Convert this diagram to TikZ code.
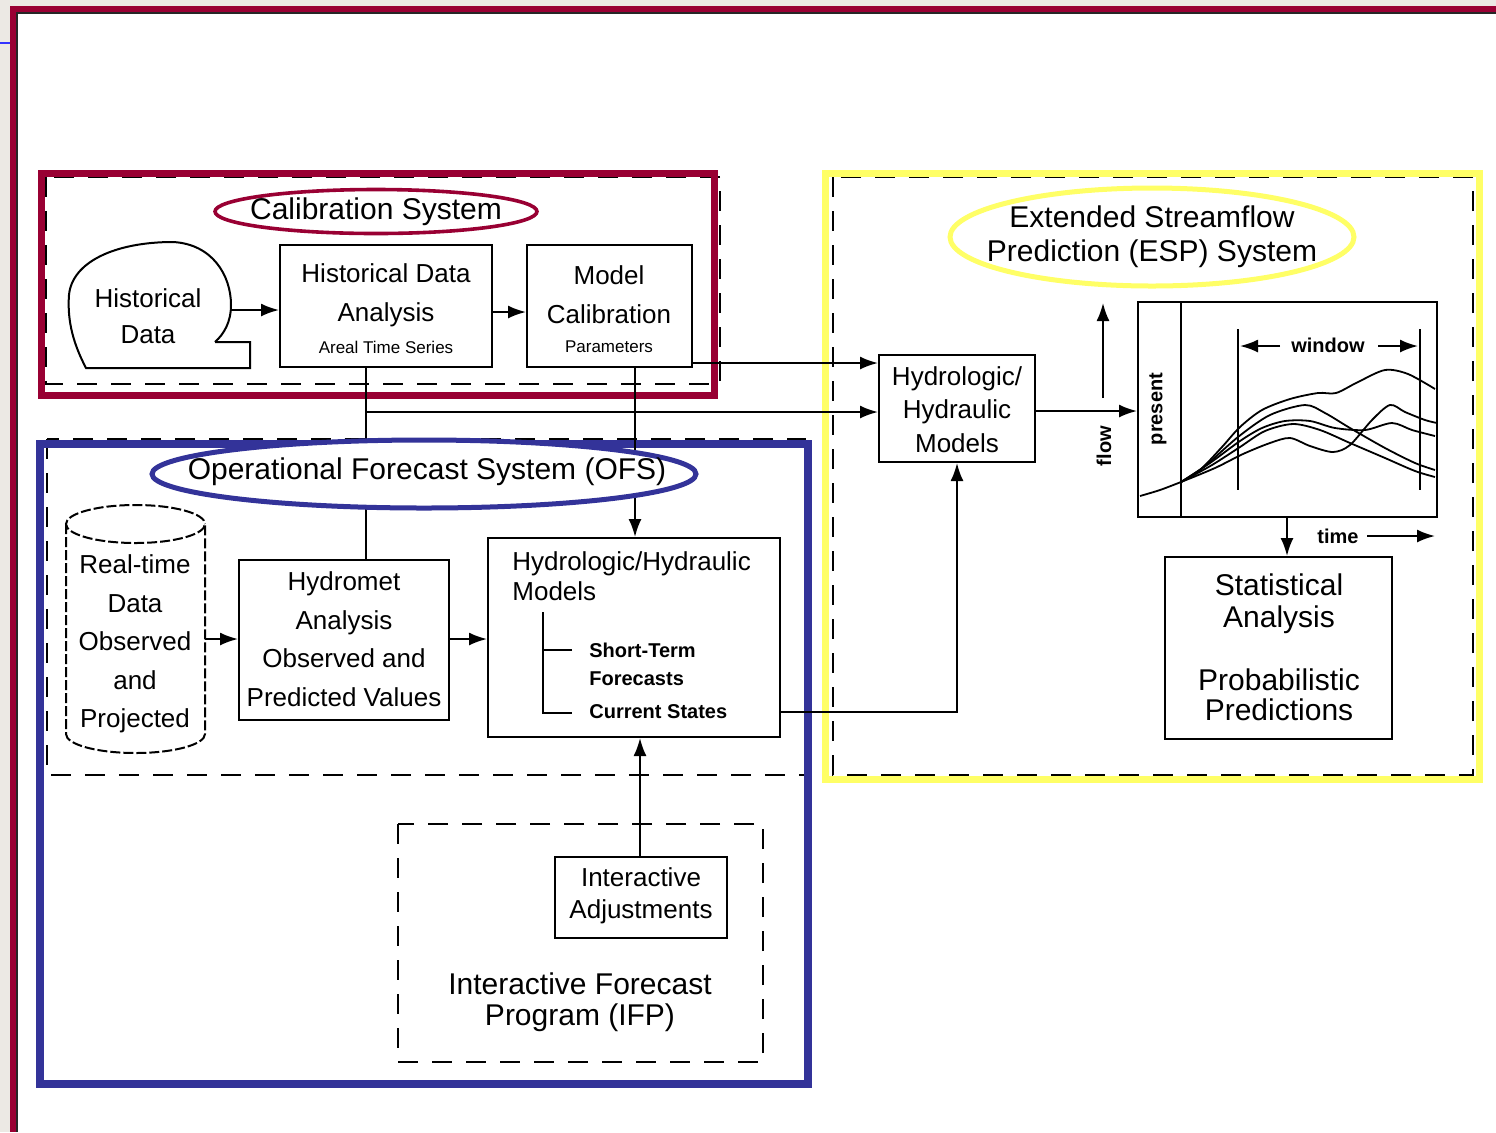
\documentclass[tikz,border=0pt]{standalone}
\usepackage{fontspec}
\setmainfont{Liberation Sans}
\usetikzlibrary{fit,arrows.meta,shapes.geometric}
\definecolor{calmaroon}{HTML}{990033}
\definecolor{ofsblue}{HTML}{333399}
\definecolor{espyellow}{HTML}{FFFF66}
\definecolor{winbg}{HTML}{ECE9E4}
\begin{document}
\begin{tikzpicture}[x=0.5pt,y=-0.5pt,
  box/.style={draw, line width=1pt, inner sep=0pt},
  dsh/.style={line width=1pt, dash pattern=on 10pt off 7pt},
  arr/.style={line width=1pt, -{Latex[length=9pt,width=6.5pt]}},
  ln/.style={line width=1pt},
  big/.style={inner sep=0pt, align=center},
  mid/.style={inner sep=0pt, align=center},
  sml/.style={font=\fontsize{8.5}{9}\selectfont, inner sep=0pt},
  lbl/.style={font=\bfseries\fontsize{10}{11}\selectfont, inner sep=0pt},
  crv/.style={line width=0.9pt},
]
\useasboundingbox (0,0) rectangle (1496,1132);
% window background and frame
\fill[white] (0,0) rectangle (1496,1132);
\fill[winbg] (0,0) rectangle (10,1132);
\fill[winbg] (0,0) rectangle (1496,6);
\fill[calmaroon] (10,6) rectangle (1496,12);
\fill[calmaroon] (10,6) rectangle (16,1132);
\draw[line width=0.7pt, black!85] (17,1132) -- (17,13) -- (1496,13);
\draw[line width=1pt, blue!80] (0,43) -- (10,43);

% ---------- system frames ----------
\draw[dsh] (46,177) rectangle (720,384);
\draw[calmaroon, line width=3.5pt] (41,173) rectangle (714,395);
\draw[dsh] (47,439) rectangle (805,775);
\draw[ofsblue, line width=4pt] (40,444) rectangle (808,1084);
\draw[dsh] (833,177) rectangle (1473,775);
\draw[espyellow, line width=3.5pt] (825,173) rectangle (1479,779);
\draw[dsh] (398,824) rectangle (763,1062);

% ---------- Calibration system ----------
\draw[ln] (215,342) -- (250,342) -- (250,368) -- (86,368)
  .. controls (74,345) and (67,322) .. (69,295)
  .. controls (72,262) and (115,242) .. (173,242)
  .. controls (212,244) and (231,275) .. (231,305)
  .. controls (231,322) and (224,334) .. (215,342);
\coordinate (histR) at (231,310);
\node[mid, font=\fontsize{13}{18}\selectfont] (histt) at (148,316) {Historical\\Data};

\node[box, fit={(280,245) (492,367)}] (hda) {};
\node[mid, font=\fontsize{13}{19.5}\selectfont] (hdat) at (386,295) {Historical Data\\Analysis};
\node[sml] (hdas) at (386,347) {Areal Time Series};

\node[box, fit={(527,245) (692,367)}] (mc) {};
\node[mid, font=\fontsize{13}{19.5}\selectfont] (mct) at (609,295) {Model\\Calibration};
\node[sml] (mcs) at (609,347) {Parameters};

% ---------- OFS ----------
\draw[ln, dash pattern=on 5pt off 1.5pt]
  (66,524) -- (66,734) arc[start angle=180, end angle=0, x radius=69.5, y radius=19]
  -- (205,524) arc[start angle=0, end angle=360, x radius=69.5, y radius=19];
\coordinate (cylR) at (205,639);
\node[mid, font=\fontsize{13}{19.25}\selectfont] (cylt) at (135,644) {Real-time\\Data\\Observed\\and\\Projected};

\node[box, fit={(239,560) (449,720)}] (hym) {};
\node[mid, font=\fontsize{13}{19.3}\selectfont] (hymt) at (344,639) {Hydromet\\Analysis\\Observed and\\Predicted Values};

\node[box, fit={(488,538) (780,737)}] (ofsh) {};
\node[inner sep=0pt, anchor=west, align=left, font=\fontsize{13}{15}\selectfont] (ofsht) at (512,576) {Hydrologic/Hydraulic\\Models};
\draw[ln] (572,650) -- (543,650) -- (543,612);
\draw[ln] (543,650) -- (543,713) -- (572,713);
\node[lbl, anchor=west, align=left, font=\bfseries\fontsize{10}{14}\selectfont] (stf) at (589,664) {Short-Term\\Forecasts};
\node[lbl, anchor=west] (cst) at (589,712) {Current States};

\node[box, fit={(555,857) (727,938)}] (ia) {};
\node[mid, font=\fontsize{13}{16}\selectfont] (iat) at (641,896) {Interactive\\Adjustments};
\node[big, font=\fontsize{15}{15.5}\selectfont] (ifpt) at (580,1002) {Interactive Forecast\\Program (IFP)};

% ---------- ESP ----------
\node[box, fit={(879,355) (1035,462)}] (esph) {};
\node[mid, font=\fontsize{13}{16.75}\selectfont] (espht) at (957,409.5) {Hydrologic/\\Hydraulic\\Models};

\node[box, fit={(1138,302) (1437,517)}] (graph) {};
\draw[ln] (1181,302) -- (1181,517);
\draw[ln] (1238,329) -- (1238,490);
\draw[ln] (1420,329) -- (1420,490);
\node[lbl, rotate=90] (present) at (1158,409) {present};
\node[lbl, rotate=90] (flow) at (1104,446) {flow};
\node[lbl] (window) at (1328,345) {window};
\node[lbl] (time) at (1338,536) {time};
\coordinate (flowA) at (1103,398);
\coordinate (flowB) at (1103,303);
\coordinate (winLa) at (1280,346);
\coordinate (winLb) at (1240,346);
\coordinate (winRa) at (1378,346);
\coordinate (winRb) at (1418,346);
\coordinate (timeA) at (1367,536);
\coordinate (timeB) at (1435,536);
\draw[arr] (flowA) -- (flowB);
\draw[arr] (winLa) -- (winLb);
\draw[arr] (winRa) -- (winRb);
\draw[arr] (timeA) -- (timeB);
% ensemble traces
\draw[crv] plot[smooth] coordinates {(1140,496) (1160,490) (1181,482)};
\draw[crv] plot[smooth] coordinates {(1181,482) (1200,470) (1222,447) (1240,427) (1262,410) (1290,399) (1318,393) (1336,393) (1358,382) (1385,370) (1408,374) (1435,389)};
\draw[crv] plot[smooth] coordinates {(1181,482) (1205,466) (1238,437) (1270,415) (1305,405) (1325,413) (1350,428) (1385,448) (1415,463) (1435,470)};
\draw[crv] plot[smooth] coordinates {(1181,482) (1210,463) (1240,441) (1262,428) (1285,421) (1310,421) (1335,428) (1365,430) (1392,423) (1412,430) (1435,436)};
\draw[crv] plot[smooth] coordinates {(1181,482) (1212,465) (1240,447) (1265,431) (1293,424) (1320,430) (1350,443) (1385,458) (1415,471) (1435,477)};
\draw[crv] plot[smooth] coordinates {(1181,482) (1215,468) (1243,454) (1270,443) (1290,438) (1310,446) (1333,452) (1350,445) (1372,420) (1390,405) (1405,412) (1425,420) (1437,423)};

\node[box, fit={(1165,557) (1392,739)}] (stat) {};
\node[big, font=\fontsize{15}{16}\selectfont] (statA) at (1279,604) {Statistical\\Analysis};
\node[big, font=\fontsize{15}{15}\selectfont] (statB) at (1279,695) {Probabilistic\\Predictions};

% ---------- connectors ----------
\draw[arr] (histR) -- (hda.west |- histR);
\draw[arr] (hda.east |- 0,312) -- (mc.west |- 0,312);
\coordinate (j1) at (366,412);
\draw[ln] (hda.south -| j1) -- (hym.north -| j1);
\draw[arr] (j1) -- (esph.west |- j1);
\draw[arr] (mc.south -| 635,0) -- (ofsh.north -| 635,0);
\draw[arr] (mc.east |- 0,363) -- (esph.west |- 0,363);
\draw[arr] (cylR) -- (hym.west |- cylR);
\draw[arr] (hym.east |- cylR) -- (ofsh.west |- cylR);
\draw[arr] (ia.north -| 640,0) -- (ofsh.south -| 640,0);
\draw[arr] (ofsh.east |- 0,712) -| (esph.south);
\draw[arr] (esph.east |- 0,411) -- (graph.west |- 0,411);
\draw[arr] (graph.south -| 1287,0) -- (stat.north -| 1287,0);

% ---------- titles (ellipses) ----------
\node[ellipse, draw=calmaroon, line width=1.8pt, fill=white, minimum width=161pt, minimum height=22pt, inner sep=0pt] (calell) at (376,211.5) {};
\node[big, font=\fontsize{15}{16}\selectfont] (calt) at (376,212) {Calibration System};
\node[ellipse, draw=ofsblue, line width=2.5pt, fill=white, minimum width=272pt, minimum height=34pt, inner sep=0pt] (ofsell) at (424,474) {};
\node[big, font=\fontsize{15}{16}\selectfont] (ofst) at (427,472) {Operational Forecast System (OFS)};
\node[ellipse, draw=espyellow, line width=2.5pt, fill=white, minimum width=202pt, minimum height=49pt, inner sep=0pt] (espell) at (1152,237) {};
\node[big, font=\fontsize{15}{17}\selectfont] (espt) at (1152,237) {Extended Streamflow\\Prediction (ESP) System};
\end{tikzpicture}
\end{document}
